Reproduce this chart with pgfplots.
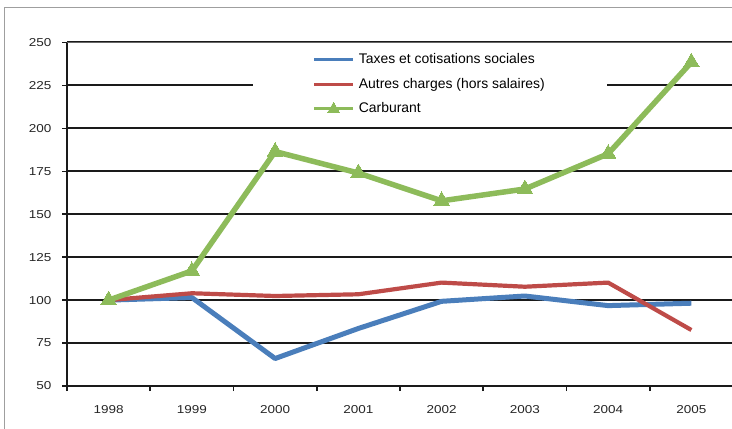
\documentclass[border=0pt]{standalone}
\usepackage{pgfplots}
\pgfplotsset{compat=1.18}
\usepackage{fontspec}
\setmainfont{Liberation Sans}
\newfontfamily\tickfont[FakeStretch=1.18]{Liberation Sans}
\definecolor{cblue}{HTML}{4A7EBB}
\definecolor{cred}{HTML}{BE4B48}
\definecolor{cgreen}{HTML}{8DBB5A}
\definecolor{gridc}{HTML}{1A1A1A}
\begin{document}
\begin{tikzpicture}
\draw[gray!75, line width=1bp] (4bp,-10bp) -- (4bp,421bp) -- (760bp,421bp);
\begin{axis}[
  at={(67bp,43bp)}, anchor=south west,
  width=666bp, height=343.5bp, scale only axis,
  xmin=-0.5, xmax=7.5, ymin=50, ymax=250,
  axis lines*=left,
  axis line style={line width=2bp, gridc, -},
  ytick={50,75,...,250},
  xtick={-0.5,0.5,...,7.5}, xticklabels={},
  extra x ticks={0,1,2,3,4,5,6,7},
  extra x tick labels={1998,1999,2000,2001,2002,2003,2004,2005},
  extra x tick style={major tick length=0pt, grid=none},
  tick align=outside,
  major tick length=5bp,
  tick style={line width=1.6bp, gridc},
  ymajorgrids,
  grid style={line width=2bp, gridc},
  xmajorgrids=false,
  /pgf/number format/assume math mode=true,
  ticklabel style={font=\tickfont\fontsize{11.5}{13}\selectfont, text=black!85},
  yticklabel style={xshift=-7bp},
  xticklabel style={yshift=-16bp},
  legend style={at={(axis cs:2.45,244)}, anchor=north west, draw=none, fill=none,
    font=\fontsize{14}{16}\selectfont, row sep=11bp, inner sep=0pt,
    nodes={inner sep=0pt, text height=10.5bp, text depth=3bp}},
  legend cell align=left,
  legend image code/.code={
    \draw[#1, line width=2.6bp] (0bp,0bp) -- (39bp,0bp);
    \path[#1, only marks, mark size=6.5bp] plot coordinates {(19.5bp,0bp)};
    \path (42bp,0bp);
  },
]
\fill[white] (axis cs:1.73,205) rectangle (axis cs:5.99,245);
\draw[gray!80!black, line width=2bp] (rel axis cs:0,1) -- (rel axis cs:1,1);
\addplot[cblue, line width=5bp, mark=none, line join=round] coordinates {
 (0,100) (1,101.5) (2,66) (3,83.5) (4,99.3) (5,102.4) (6,96.8) (7,98.2)};
\addlegendentry{Taxes et cotisations sociales}
\addplot[cred, line width=4.2bp, mark=none, line join=round] coordinates {
 (0,100) (1,104) (2,102.4) (3,103.4) (4,110.2) (5,107.8) (6,110.2) (7,82.6)};
\addlegendentry{Autres charges (hors salaires)}
\addplot[cgreen, line width=5.5bp, mark=triangle*, mark size=9bp, line join=round,
  mark options={fill=cgreen, draw=cgreen, line width=0pt}] coordinates {
 (0,100) (1,117) (2,186.5) (3,174) (4,157.8) (5,164.7) (6,185.2) (7,238.5)};
\addlegendentry{Carburant}
\end{axis}
\pgfresetboundingbox
\path[use as bounding box] (0,0) rectangle (732bp,429bp);
\end{tikzpicture}
\end{document}
